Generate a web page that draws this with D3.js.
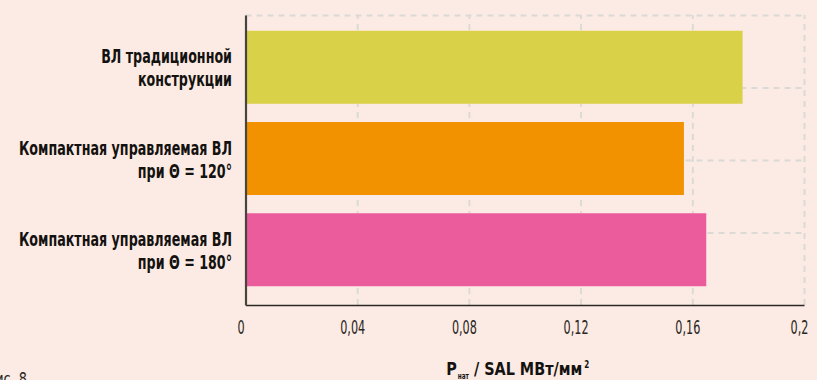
<!DOCTYPE html>
<html>
<head>
<meta charset="utf-8">
<script src="https://cdn.jsdelivr.net/npm/d3@7/dist/d3.min.js"></script>
<style>
  html, body { margin: 0; padding: 0; background: #fcebe4; }
  svg { display: block; }
  text { font-family: "DejaVu Sans Condensed", "Liberation Sans Narrow", "Roboto", sans-serif; }
</style>
</head>
<body>
<svg id="chart" width="817" height="380"></svg>
<script>
// Line types and their natural power per conductor cross-section
const categories = [
  ["ВЛ традиционной", "конструкции"],
  ["Компактная управляемая ВЛ", "при Θ = 120°"],
  ["Компактная управляемая ВЛ", "при Θ = 180°"]
];
const values = [0.178, 0.157, 0.165];
const barColors = ["#d9d147", "#f39200", "#eb5c9c"];
const tickValues = [0, 0.04, 0.08, 0.12, 0.16, 0.2];
const tickLabels = ["0", "0,04", "0,08", "0,12", "0,16", "0,2"];

const svg = d3.select("#chart");
const plotL = 245.5, plotR = 804, plotT = 15, plotB = 305;

const x = d3.scaleLinear().domain([0, 0.2]).range([plotL, plotR]);
const y = d3.scaleBand().domain(d3.range(categories.length))
  .range([12.5, 304.5]).paddingInner(0.2).paddingOuter(0.2);
const yGrid = d3.scaleLinear().domain([0, 4]).range([plotB, plotT]);

// width ratio that makes a sample string span the wanted width (condensed look)
function condense(sample, size, weight, wanted) {
  const t = svg.append("text").attr("font-size", size).attr("font-weight", weight).text(sample);
  const w = t.node().getComputedTextLength();
  t.remove();
  return wanted / w;
}
function squeeze(sel, k) {
  sel.each(function () {
    const w = this.getComputedTextLength();
    d3.select(this).attr("textLength", w * k).attr("lengthAdjust", "spacingAndGlyphs");
  });
}
const kLabel = condense("Компактная управляемая ВЛ", 19, "bold", 213);
const kTick = condense("0,08", 19, "normal", 25);
const kTitle = condense("P / SAL  МВт/мм", 17, "bold", 124);

// dashed grid
const gridStyle = g => g.call(s => s.select(".domain").remove())
  .call(s => s.selectAll(".tick line")
    .attr("stroke", "#dcdad6").attr("stroke-width", 2).attr("stroke-dasharray", "6,5"))
  .call(s => s.selectAll(".tick text").remove());

svg.append("g").attr("transform", `translate(0,${plotB})`)
  .call(d3.axisBottom(x).tickValues(tickValues.slice(1)).tickSize(-(plotB - plotT)))
  .call(gridStyle);
svg.append("g").attr("transform", `translate(${plotL},0)`)
  .call(d3.axisLeft(yGrid).tickValues([1, 2, 3, 4]).tickSize(-(plotR - plotL)))
  .call(gridStyle);

// bars
svg.append("g").selectAll("rect").data(values).join("rect")
  .attr("x", x(0))
  .attr("y", (d, i) => y(i))
  .attr("width", d => x(d) - x(0))
  .attr("height", y.bandwidth())
  .attr("fill", (d, i) => barColors[i]);

// x axis
const xAxis = svg.append("g").attr("transform", `translate(0,${plotB})`)
  .call(d3.axisBottom(x).tickValues(tickValues).tickFormat((d, i) => tickLabels[i])
    .tickSize(0).tickSizeOuter(0));
xAxis.select(".domain").attr("stroke", "#2b2724").attr("stroke-width", 1.6);
xAxis.selectAll(".tick text")
  .attr("y", 0).attr("dy", 29).attr("dx", -5)
  .attr("font-size", 19).attr("fill", "#2a2622")
  .call(squeeze, kTick);

// y axis line
const yAxis = svg.append("g").attr("transform", `translate(${plotL},0)`)
  .call(d3.axisLeft(yGrid).tickValues([]).tickSizeOuter(0));
yAxis.select(".domain").attr("stroke", "#4a4440").attr("stroke-width", 2.2);

// category labels, one text element per line
const labelRows = categories.flatMap((lines, i) => lines.map((t, j) => ({ t, i, j })));
svg.append("g").selectAll("text").data(labelRows).join("text")
  .attr("text-anchor", "end")
  .attr("font-weight", "bold")
  .attr("font-size", 19)
  .attr("fill", "#141210")
  .attr("x", 232)
  .attr("y", d => y(d.i) + y.bandwidth() / 2 - 4 + d.j * 23)
  .text(d => d.t)
  .call(squeeze, kLabel);

// axis title: P with subscript, unit with superscript
const tx = (plotL + plotR) / 2 - 7;
const title = svg.append("g").attr("font-weight", "bold").attr("fill", "#141210");
const p = title.append("text").attr("font-size", 17).attr("y", 375).text("P").call(squeeze, kTitle);
const sub = title.append("text").attr("font-size", 8).attr("y", 379).text("нат");
const rest = title.append("text").attr("font-size", 17).attr("y", 375).text("/ SAL  МВт/мм").call(squeeze, kTitle);
const sup = title.append("text").attr("font-size", 10).attr("y", 368).text("2");
sub.call(squeeze, 0.8);
sup.call(squeeze, 0.8);
{
  const parts = [[p, 0], [sub, 1], [rest, 5], [sup, 2]];
  const widths = parts.map(([s]) => +s.attr("textLength"));
  const total = d3.sum(widths) + d3.sum(parts, d => d[1]);
  let cx = tx - total / 2;
  parts.forEach(([s, gap], k) => {
    cx += gap;
    s.attr("x", cx);
    cx += widths[k];
  });
}

// figure caption
svg.append("text").attr("x", 27).attr("y", 384.5).attr("text-anchor", "end")
  .attr("font-size", 17).attr("fill", "#2a2622").text("Рис. 8")
  .call(squeeze, 0.84);
</script>
</body>
</html>
